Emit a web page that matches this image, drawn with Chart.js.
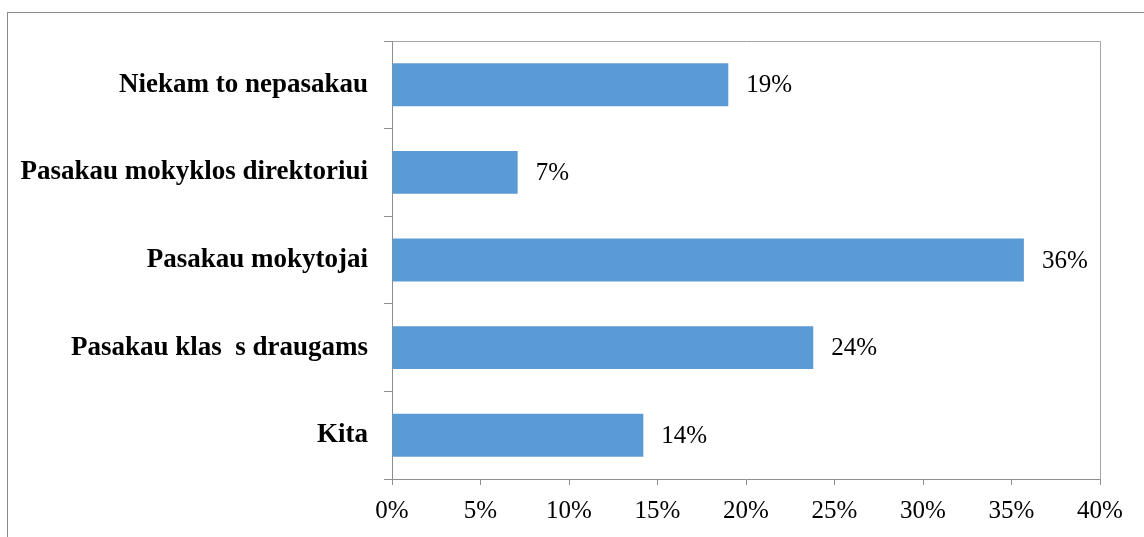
<!DOCTYPE html>
<html>
<head>
<meta charset="utf-8">
<script src="https://cdn.jsdelivr.net/npm/chart.js@4/dist/chart.umd.min.js"></script>
<style>
  html, body { margin: 0; padding: 0; background: #fff; overflow: hidden; }
  #frame { position: absolute; left: 7px; top: 12px; width: 1200px; height: 600px; border: 1px solid #8a8a8a; }
  #wrap { position: absolute; left: 0; top: 0; width: 1144px; height: 537px; }
</style>
</head>
<body>
<div id="frame"></div>
<div id="wrap"><canvas id="answersChart" width="1144" height="537"></canvas></div>
<script>
// data
const categories = ['Niekam to nepasakau', 'Pasakau mokyklos direktoriui', 'Pasakau mokytojai', 'Pasakau klas  s draugams', 'Kita'];
const shares = [19.0, 7.1, 35.7, 23.8, 14.2];
const shareLabels = ['19%', '7%', '36%', '24%', '14%'];
const xTicks = [0, 5, 10, 15, 20, 25, 30, 35, 40];

const serif = '"Liberation Serif", "Times New Roman", serif';

// top and right edges of the plot area
const plotFrame = {
    id: 'plotFrame',
    afterDraw(chart) {
        const a = chart.chartArea;
        const ctx = chart.ctx;
        ctx.save();
        ctx.strokeStyle = '#a5a5a5';
        ctx.lineWidth = 1;
        ctx.beginPath();
        ctx.moveTo(Math.round(a.left) + 0.5, Math.round(a.top) + 0.5);
        ctx.lineTo(Math.round(a.right) + 0.5, Math.round(a.top) + 0.5);
        ctx.lineTo(Math.round(a.right) + 0.5, Math.round(a.bottom) + 0.5);
        ctx.stroke();
        ctx.restore();
    }
};

// value labels next to the bar ends
const barLabels = {
    id: 'barLabels',
    afterDatasetsDraw(chart) {
        const ctx = chart.ctx;
        const meta = chart.getDatasetMeta(0);
        ctx.save();
        ctx.fillStyle = '#000';
        ctx.font = '25px ' + serif;
        ctx.textAlign = 'left';
        ctx.textBaseline = 'middle';
        meta.data.forEach(function(bar, i) {
            ctx.fillText(shareLabels[i], bar.x + 18, bar.y + 1);
        });
        ctx.restore();
    }
};

const ctx = document.getElementById('answersChart');
new Chart(ctx, {
    type: 'bar',
    data: {
        labels: categories,
        datasets: [{
            data: shares,
            backgroundColor: '#5b9bd5',
            borderWidth: 0,
            categoryPercentage: 1,
            barPercentage: 0.49
        }]
    },
    options: {
        indexAxis: 'y',
        responsive: false,
        animation: false,
        layout: { padding: { left: 0, top: 41, right: 44, bottom: 0 } },
        plugins: {
            legend: { display: false },
            tooltip: { enabled: false }
        },
        scales: {
            x: {
                min: 0,
                max: 40,
                afterBuildTicks: function(scale) {
                    scale.ticks = xTicks.map(function(v) { return { value: v }; });
                },
                afterFit: function(scale) { scale.height = 58; },
                grid: { drawOnChartArea: false, drawTicks: true, tickLength: 6, color: '#8e8e8e' },
                border: { color: '#8e8e8e' },
                ticks: {
                    color: '#000',
                    padding: 11,
                    maxRotation: 0,
                    font: { family: serif, size: 25 },
                    callback: function(v) { return v + '%'; }
                }
            },
            y: {
                afterFit: function(scale) { scale.width = 392; },
                grid: { offset: true, drawOnChartArea: false, drawTicks: true, tickLength: 8, color: '#8e8e8e' },
                border: { color: '#8e8e8e' },
                ticks: {
                    color: '#000',
                    padding: 16,
                    font: { family: serif, size: 27, weight: 'bold' }
                }
            }
        }
    },
    plugins: [plotFrame, barLabels]
});
</script>
</body>
</html>
